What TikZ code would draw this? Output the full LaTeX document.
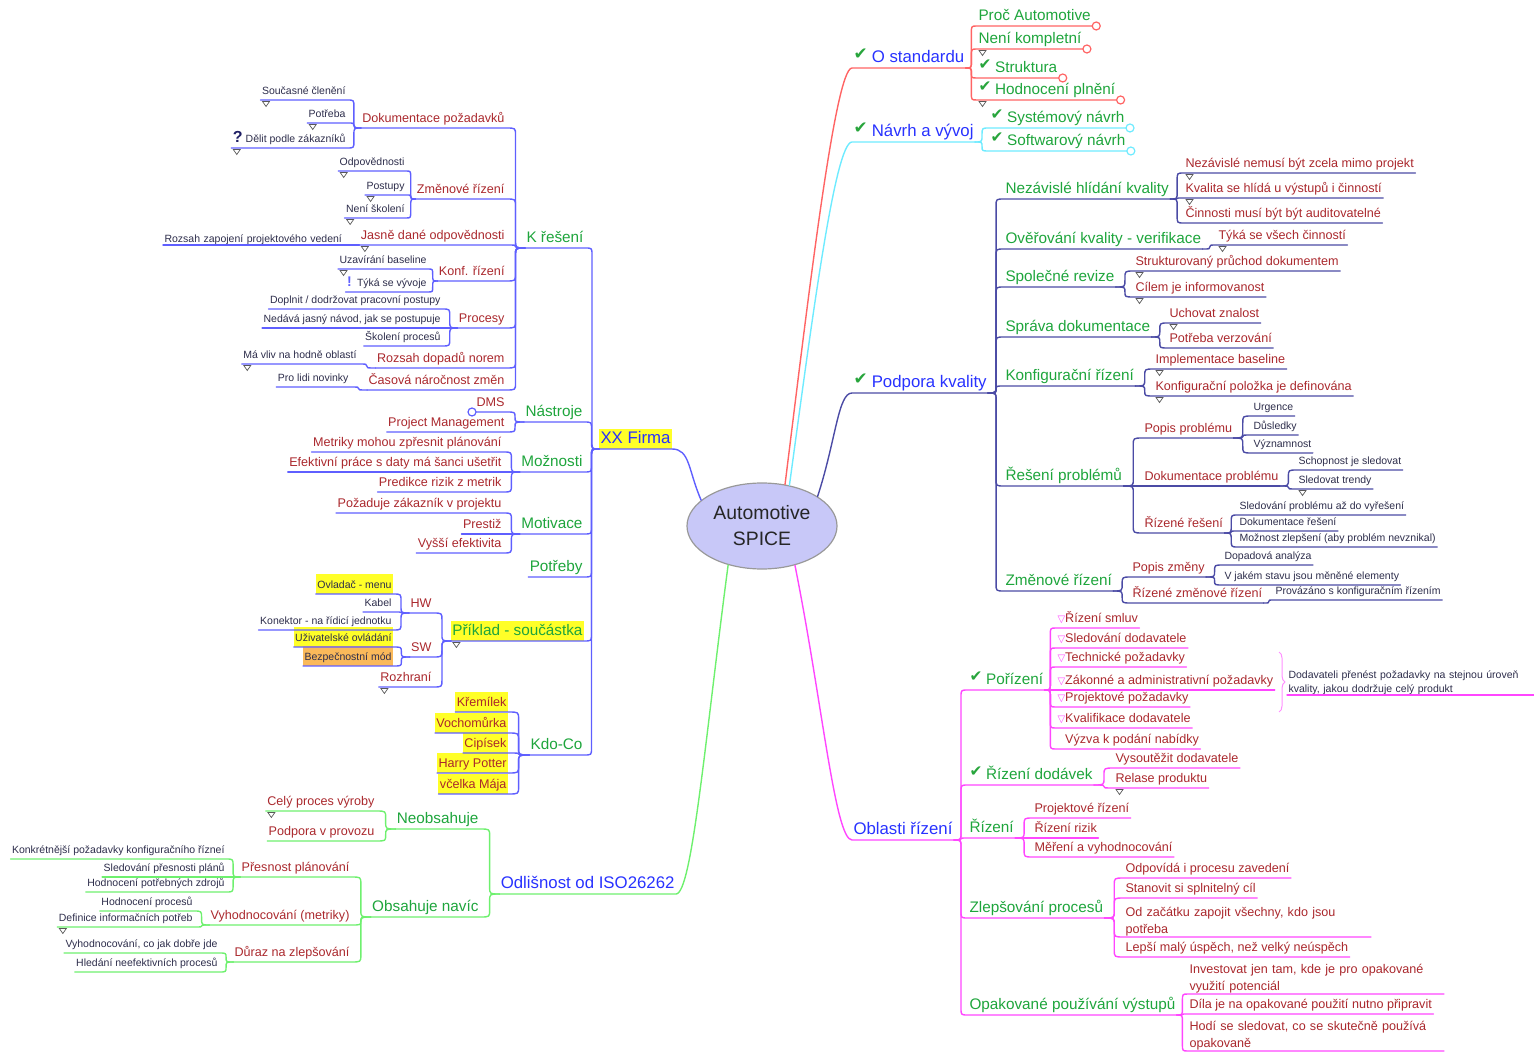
\documentclass[tikz,border=0pt]{standalone}
\usepackage{fontspec}
\setmainfont{Liberation Sans}
\newfontfamily\dejavu{DejaVu Sans}
\usetikzlibrary{calc,shapes.geometric,decorations.pathreplacing}
\definecolor{cL1}{RGB}{40,50,255}
\definecolor{cL2}{RGB}{30,165,60}
\definecolor{cL3}{RGB}{170,40,45}
\definecolor{cL4}{RGB}{45,45,75}
\definecolor{cQ}{RGB}{30,30,100}
\definecolor{bRed}{RGB}{255,100,100}
\definecolor{bCyan}{RGB}{110,235,255}
\definecolor{bNavy}{RGB}{75,75,165}
\definecolor{bMag}{RGB}{255,70,255}
\definecolor{bGrn}{RGB}{110,240,110}
\definecolor{bBlue}{RGB}{95,95,255}
\definecolor{ckc}{RGB}{40,165,60}
\definecolor{hyel}{RGB}{255,255,40}
\definecolor{hora}{RGB}{250,185,90}
\definecolor{ellf}{RGB}{200,200,248}
\colorlet{br}{black}
\newcommand\szA{\fontsize{9.7}{13}\selectfont}
\newcommand\szB{\fontsize{8.4}{10}\selectfont}
\newcommand\szC{\fontsize{7.65}{9}\selectfont}
\newcommand\szD{\fontsize{6.3}{8.5}\selectfont}
\newcommand\szE{\fontsize{5.25}{7}\selectfont}
\newcommand\mychk{\raisebox{0.2em}{\textcolor{ckc}{\dejavu ✔}}\hspace{0.25em}}
\newcommand\mytri{{\dejavu\fontsize{5}{5}\selectfont\textcolor{bMag}{▽}}}
\newcommand\myq{\textcolor{cQ}{\fontsize{8}{8}\selectfont\bfseries ?}\hspace{0.3em}}
\newcommand\myex{\textcolor{bBlue}{\fontsize{7}{7}\selectfont\bfseries !}\hspace{0.5em}}
\newcommand\conL[2]{\draw[cn] (#1.south west) to[mm] (#2.south east) -- (#2.south west);}
\newcommand\conR[2]{\draw[cn] (#1.south east) to[mm] (#2.south west) -- (#2.south east);}
\newcommand\ntri[1]{\draw[tri] ($(#1.south west)+(2,1.5)$) -- ++(7,0) -- ++(-3.5,5) -- cycle;}
\newcommand\ecirc[1]{\draw[draw=br, fill=white, line width=0.6pt] ($(#1.south east)+(4,0)$) circle[radius=2pt];}
\begin{document}
\begin{tikzpicture}[x=0.5pt,y=-0.5pt,
  nd/.style={inner xsep=0.75pt, inner ysep=0.4pt, outer sep=0pt, text height=0.72em, text depth=0.22em},
  nR/.style={nd, anchor=south west},
  nL/.style={nd, anchor=south east},
  l1/.style={font=\szB, text=cL1},
  l2/.style={font=\szC, text=cL2},
  l3/.style={font=\szD, text=cL3},
  l4/.style={font=\szE, text=cL4},
  ml/.style={text height={}, text depth={}, align=left, text width=#1},
  fy/.style={fill=hyel},
  fo/.style={fill=hora},
  cn/.style={draw=br, line width=0.7pt, line cap=round, line join=round},
  tri/.style={draw=black!65, fill=white, line width=0.35pt},
  mm/.style={to path={let \p1=(\tikztostart), \p2=(\tikztotarget),
     \n1={(\x1+\x2)/2},
     \n2={\y1+(\y2-\y1)/max(abs(\y2-\y1),0.01)*min(3.5,abs(\y2-\y1)/2)},
     \n3={\y2-(\y2-\y1)/max(abs(\y2-\y1),0.01)*min(3.5,abs(\y2-\y1)/2)} in
     .. controls (\n1,\y1) .. (\n1,\n2) -- (\n1,\n3) .. controls (\n1,\y2) .. (\tikztotarget)}}
]
\useasboundingbox (0,0) rectangle (1534,1052);
\node[ellipse, draw=black!40, fill=ellf, line width=0.6pt, minimum width=75pt, minimum height=43pt, inner sep=0pt, align=center, font=\szA, text=black!85] (c) at (762,526) {Automotive\\SPICE};

% ---------------- XX Firma
\begin{scope}
\colorlet{br}{bBlue}
\node[nL,l1,fy] (xx) at (672,449) {XX Firma};
\node[nL,l2] (kr) at (585,248) {K řešení};
\node[nL,l2] (nas) at (584,422) {Nástroje};
\node[nL,l2] (moz) at (584,472) {Možnosti};
\node[nL,l2] (mot) at (584,534) {Motivace};
\node[nL,l2] (pot) at (584,577) {Potřeby};
\node[nL,l2,fy] (pri) at (584,641) {Příklad - součástka};
\node[nL,l2] (kdo) at (584,755) {Kdo-Co};
\node[nL,l3] (dok) at (506,128) {Dokumentace požadavků};
\node[nL,l3] (zme) at (506,199) {Změnové řízení};
\node[nL,l3] (jas) at (506,245) {Jasně dané odpovědnosti};
\node[nL,l3] (konf) at (506,281) {Konf. řízení};
\node[nL,l3] (proc) at (506,328) {Procesy};
\node[nL,l3] (roz) at (506,368) {Rozsah dopadů norem};
\node[nL,l3] (cas) at (506,390) {Časová náročnost změn};
\node[nL,l4] (soc) at (347,100) {Současné členění};
\node[nL,l4] (potr) at (347,123) {Potřeba};
\node[nL,l4] (del) at (347,148) {\myq Dělit podle zákazníků};
\node[nL,l4] (odp) at (406,171) {Odpovědnosti};
\node[nL,l4] (post) at (406,195) {Postupy};
\node[nL,l4] (nesk) at (406,218) {Není školení};
\node[nL,l4,ml=93pt] (rzp) at (352,245) {Rozsah zapojení projektového vedení};
\node[nL,l4] (uza) at (428,269) {Uzavírání baseline};
\node[nL,l4] (tyk) at (428,292) {\myex Týká se vývoje};
\node[nL,l4] (dopl) at (442,309) {Doplnit / dodržovat pracovní postupy};
\node[nL,l4] (ned) at (442,328) {Nedává jasný návod, jak se postupuje};
\node[nL,l4] (skol) at (442,346) {Školení procesů};
\node[nL,l4] (mav) at (358,364) {Má vliv na hodně oblastí};
\node[nL,l4] (pro) at (350,387) {Pro lidi novinky};
\node[nL,l3] (dms) at (506,412) {DMS};
\node[nL,l3] (pm) at (506,432) {Project Management};
\node[nL,l3] (met) at (503,452) {Metriky mohou zpřesnit plánování};
\node[nL,l3] (efe) at (503,472) {Efektivní práce s daty má šanci ušetřit};
\node[nL,l3] (pred) at (503,492) {Predikce rizik z metrik};
\node[nL,l3] (pozz) at (503,513) {Požaduje zákazník v projektu};
\node[nL,l3] (pres) at (503,534) {Prestiž};
\node[nL,l3] (vys) at (503,553) {Vyšší efektivita};
\node[nL,l3] (hw) at (433,613) {HW};
\node[nL,l3] (sw) at (433,657) {SW};
\node[nL,l3] (rozh) at (433,687) {Rozhraní};
\node[nL,l4,fy] (ovl) at (393,594) {Ovladač - menu};
\node[nL,l4] (kab) at (393,612) {Kabel};
\node[nL,l4] (kon) at (393,630) {Konektor - na řídicí jednotku};
\node[nL,l4,fy] (uziv) at (393,647) {Uživatelské ovládání};
\node[nL,l4,fo] (bez) at (393,666) {Bezpečnostní mód};
\node[nL,l3,fy] (kre) at (508,712) {Křemílek};
\node[nL,l3,fy] (voch) at (508,733) {Vochomůrka};
\node[nL,l3,fy] (cip) at (508,753) {Cipísek};
\node[nL,l3,fy] (harry) at (508,773) {Harry Potter};
\node[nL,l3,fy] (vcel) at (508,794) {včelka Mája};
\draw[cn] (c.157) .. controls (688,470) and (690,449) .. (xx.south east) -- (xx.south west);
\foreach \q in {kr,nas,moz,mot,pot,pri,kdo} {\conL{xx}{\q}}
\foreach \q in {dok,zme,jas,konf,proc,roz,cas} {\conL{kr}{\q}}
\foreach \q in {soc,potr,del} {\conL{dok}{\q}}
\foreach \q in {odp,post,nesk} {\conL{zme}{\q}}
\conL{jas}{rzp}
\foreach \q in {uza,tyk} {\conL{konf}{\q}}
\foreach \q in {dopl,ned,skol} {\conL{proc}{\q}}
\conL{roz}{mav}
\conL{cas}{pro}
\foreach \q in {dms,pm} {\conL{nas}{\q}}
\foreach \q in {met,efe,pred} {\conL{moz}{\q}}
\foreach \q in {pozz,pres,vys} {\conL{mot}{\q}}
\foreach \q in {hw,sw,rozh} {\conL{pri}{\q}}
\foreach \q in {ovl,kab,kon} {\conL{hw}{\q}}
\foreach \q in {uziv,bez} {\conL{sw}{\q}}
\foreach \q in {kre,voch,cip,harry,vcel} {\conL{kdo}{\q}}
\draw[draw=br, fill=white, line width=0.6pt] ($(dms.south west)+(-3,0)$) circle[radius=2pt];
\end{scope}

% ---------------- Odlisnost
\begin{scope}
\colorlet{br}{bGrn}
\node[nL,l1] (odl) at (676,894) {Odlišnost od ISO26262};
\node[nL,l2] (neo) at (480,829) {Neobsahuje};
\node[nL,l2] (obs) at (480,917) {Obsahuje navíc};
\node[nL,l3] (cel) at (376,811) {Celý proces výroby};
\node[nL,l3] (podp) at (376,841) {Podpora v provozu};
\node[nL,l3] (pres2) at (351,877) {Přesnost plánování};
\node[nL,l3] (vyh) at (351,925) {Vyhodnocování (metriky)};
\node[nL,l3] (dur) at (351,962) {Důraz na zlepšování};
\node[nL,l4] (konk) at (226,859) {Konkrétnější požadavky konfiguračního řízneí};
\node[nL,l4] (sled) at (226,877) {Sledování přesnosti plánů};
\node[nL,l4] (hodz) at (226,892) {Hodnocení potřebných zdrojů};
\node[nL,l4] (hodp) at (194,911) {Hodnocení procesů};
\node[nL,l4] (def) at (194,927) {Definice informačních potřeb};
\node[nL,l4] (vyhc) at (219,953) {Vyhodnocování, co jak dobře jde};
\node[nL,l4] (hled) at (219,972) {Hledání neefektivních procesů};
\draw[cn] (c.229) .. controls (705,740) and (692,894) .. (odl.south east) -- (odl.south west);
\foreach \q in {neo,obs} {\conL{odl}{\q}}
\foreach \q in {cel,podp} {\conL{neo}{\q}}
\foreach \q in {pres2,vyh,dur} {\conL{obs}{\q}}
\foreach \q in {konk,sled,hodz} {\conL{pres2}{\q}}
\foreach \q in {hodp,def} {\conL{vyh}{\q}}
\foreach \q in {vyhc,hled} {\conL{dur}{\q}}
\end{scope}

% ---------------- O standardu
\begin{scope}
\colorlet{br}{bRed}
\node[nR,l1] (os) at (852,68) {\mychk O standardu};
\node[nR,l2] (proc2) at (977,26) {Proč Automotive};
\node[nR,l2] (nek) at (977,49) {Není kompletní};
\node[nR,l2] (str) at (977,78) {\mychk Struktura};
\node[nR,l2] (hod) at (977,100) {\mychk Hodnocení plnění};
\draw[cn] (c.61) .. controls (808,300) and (835,68) .. (os.south west) -- (os.south east);
\foreach \q in {proc2,nek,str,hod} {\conR{os}{\q} \ecirc{\q}}
\end{scope}

% ---------------- Navrh a vyvoj
\begin{scope}
\colorlet{br}{bCyan}
\node[nR,l1] (nav) at (852,142) {\mychk Návrh a vývoj};
\node[nR,l2] (sys) at (989,128) {\mychk Systémový návrh};
\node[nR,l2] (sof) at (989,151) {\mychk Softwarový návrh};
\draw[cn] (c.56) .. controls (812,320) and (835,142) .. (nav.south west) -- (nav.south east);
\foreach \q in {sys,sof} {\conR{nav}{\q} \ecirc{\q}}
\end{scope}

% ---------------- Podpora kvality
\begin{scope}
\colorlet{br}{bNavy}
\node[nR,l1] (pk) at (852,393) {\mychk Podpora kvality};
\node[nR,l2] (nez) at (1004,199) {Nezávislé hlídání kvality};
\node[nR,l2] (ove) at (1004,249) {Ověřování kvality - verifikace};
\node[nR,l2] (spo) at (1004,287) {Společné revize};
\node[nR,l2] (spr) at (1004,337) {Správa dokumentace};
\node[nR,l2] (kfr) at (1004,386) {Konfigurační řízení};
\node[nR,l2] (res) at (1004,486) {Řešení problémů};
\node[nR,l2] (zmr) at (1004,591) {Změnové řízení};
\node[nR,l3] (n1) at (1184,173) {Nezávislé nemusí být zcela mimo projekt};
\node[nR,l3] (n2) at (1184,198) {Kvalita se hlídá u výstupů i činností};
\node[nR,l3] (n3) at (1184,223) {Činnosti musí být být auditovatelné};
\node[nR,l3] (o1) at (1217,245) {Týká se všech činností};
\node[nR,l3] (s1) at (1134,271) {Strukturovaný průchod dokumentem};
\node[nR,l3] (s2) at (1134,297) {Cílem je informovanost};
\node[nR,l3] (d1) at (1168,323) {Uchovat znalost};
\node[nR,l3] (d2) at (1168,348) {Potřeba verzování};
\node[nR,l3] (k1) at (1154,369) {Implementace baseline};
\node[nR,l3] (k2) at (1154,396) {Konfigurační položka je definována};
\node[nR,l3] (r1) at (1143,438) {Popis problému};
\node[nR,l3] (r2) at (1143,486) {Dokumentace problému};
\node[nR,l3] (r3) at (1143,533) {Řízené řešení};
\node[nR,l4] (u1) at (1252,416) {Urgence};
\node[nR,l4] (u2) at (1252,435) {Důsledky};
\node[nR,l4] (u3) at (1252,453) {Významnost};
\node[nR,l4] (t1) at (1297,470) {Schopnost je sledovat};
\node[nR,l4] (t2) at (1297,489) {Sledovat trendy};
\node[nR,l4] (e1) at (1238,515) {Sledování problému až do vyřešení};
\node[nR,l4] (e2) at (1238,531) {Dokumentace řešení};
\node[nR,l4] (e3) at (1238,547) {Možnost zlepšení (aby problém nevznikal)};
\node[nR,l3] (z1) at (1131,577) {Popis změny};
\node[nR,l3] (z2) at (1131,603) {Řízené změnové řízení};
\node[nR,l4] (p1) at (1223,565) {Dopadová analýza};
\node[nR,l4] (p2) at (1223,585) {V jakém stavu jsou měněné elementy};
\node[nR,l4] (p3) at (1274,600) {Provázáno s konfiguračním řízením};
\draw[cn] (c.28) .. controls (836,440) and (838,393) .. (pk.south west) -- (pk.south east);
\foreach \q in {nez,ove,spo,spr,kfr,res,zmr} {\conR{pk}{\q}}
\foreach \q in {n1,n2,n3} {\conR{nez}{\q}}
\conR{ove}{o1}
\foreach \q in {s1,s2} {\conR{spo}{\q}}
\foreach \q in {d1,d2} {\conR{spr}{\q}}
\foreach \q in {k1,k2} {\conR{kfr}{\q}}
\foreach \q in {r1,r2,r3} {\conR{res}{\q}}
\foreach \q in {u1,u2,u3} {\conR{r1}{\q}}
\foreach \q in {t1,t2} {\conR{r2}{\q}}
\foreach \q in {e1,e2,e3} {\conR{r3}{\q}}
\foreach \q in {z1,z2} {\conR{zmr}{\q}}
\foreach \q in {p1,p2} {\conR{z1}{\q}}
\conR{z2}{p3}
\end{scope}

% ---------------- Oblasti rizeni
\begin{scope}
\colorlet{br}{bMag}
\node[nR,l1] (ob) at (852,840) {Oblasti řízení};
\node[nR,l2] (por) at (968,690) {\mychk Pořízení};
\node[nR,l2] (rd) at (968,785) {\mychk Řízení dodávek};
\node[nR,l2] (riz) at (968,838) {Řízení};
\node[nR,l2] (zle) at (968,918) {Zlepšování procesů};
\node[nR,l2] (opa) at (968,1015) {Opakované používání výstupů};
\node[nR,l3] (a1) at (1056,628) {\mytri Řízení smluv};
\node[nR,l3] (a2) at (1056,648) {\mytri Sledování dodavatele};
\node[nR,l3] (a3) at (1056,667) {\mytri Technické požadavky};
\node[nR,l3] (a4) at (1056,690) {\mytri Zákonné a administrativní požadavky};
\node[nR,l3] (a5) at (1056,707) {\mytri Projektové požadavky};
\node[nR,l3] (a6) at (1056,728) {\mytri Kvalifikace dodavatele};
\node[nR,l3] (a7) at (1056,749) {\phantom{\mytri}Výzva k podání nabídky};
\node[nR,l3] (b1) at (1114,768) {Vysoutěžit dodavatele};
\node[nR,l3] (b2) at (1114,788) {Relase produktu};
\node[nR,l3] (c1) at (1033,818) {Projektové řízení};
\node[nR,l3] (c2) at (1033,838) {Řízení rizik};
\node[nR,l3] (c3) at (1033,857) {Měření a vyhodnocování};
\node[nR,l3] (f1) at (1124,878) {Odpovídá i procesu zavedení};
\node[nR,l3] (f2) at (1124,898) {Stanovit si splnitelný cíl};
\node[nR,l3,ml=122pt] (f3) at (1124,937) {Od začátku zapojit všechny, kdo jsou\\potřeba};
\node[nR,l3] (f4) at (1124,957) {Lepší malý úspěch, než velký neúspěch};
\node[nR,l3,ml=126.5pt] (g1) at (1188,994) {Investovat jen tam, kde je pro opakované\\využití potenciál};
\node[nR,l3] (g2) at (1188,1014) {Díla je na opakované použití nutno připravit};
\node[nR,l3,ml=126.5pt] (g3) at (1188,1051) {Hodí se sledovat, co se skutečně používá\\opakovaně};
\node[nR,l4,ml=122pt] (nt) at (1287,695) {Dodavateli přenést požadavky na stejnou úroveň\\kvality, jakou dodržuje celý produkt};
\draw[cn] (c.-50) .. controls (822,700) and (835,840) .. (ob.south west) -- (ob.south east);
\foreach \q in {por,rd,riz,zle,opa} {\conR{ob}{\q}}
\foreach \q in {a1,a2,a3,a4,a5,a6,a7} {\conR{por}{\q}}
\foreach \q in {b1,b2} {\conR{rd}{\q}}
\foreach \q in {c1,c2,c3} {\conR{riz}{\q}}
\foreach \q in {f1,f2,f3,f4} {\conR{zle}{\q}}
\foreach \q in {g1,g2,g3} {\conR{opa}{\q}}
\draw[cn] (nt.south west) -- (nt.south east);
\draw[decorate, decoration={brace, amplitude=3pt}, draw=bMag!60, line width=0.5pt] (1279,652) -- (1279,712);
\end{scope}

% ---------------- note markers
\foreach \q in {soc,potr,del,odp,post,nesk,jas,uza,mav,pri,rozh,cel,def,nek,hod,n1,n2,o1,s1,s2,d1,k1,k2,t2,b2} {\ntri{\q}}
\end{tikzpicture}
\end{document}
